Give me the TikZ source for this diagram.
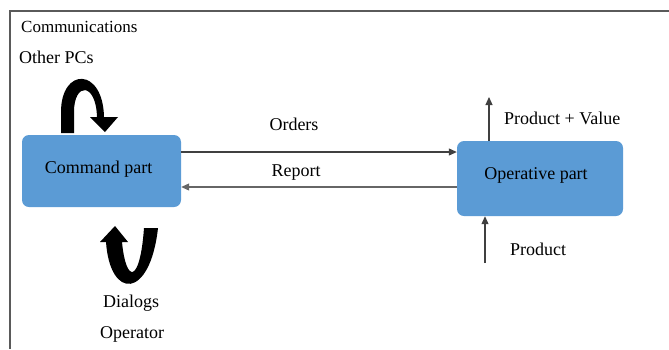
\documentclass[tikz,border=0pt]{standalone}
\usepackage{fontspec}
\setmainfont{Liberation Serif}
\usetikzlibrary{arrows.meta}
\definecolor{boxblue}{RGB}{91,155,213}
\definecolor{framegray}{RGB}{90,90,90}
\tikzset{
  partbox/.style={fill=boxblue, rounded corners=7pt, inner sep=0pt},
  lbl/.style={inner sep=0pt, font=\fontsize{18}{20}\selectfont},
  thinarrow/.style={draw=black!75, line width=1.1pt, -{Triangle[length=8pt,width=7pt]}},
  bigarrow/.style={fill=black},
  framel/.style={draw=framegray, line width=1.8pt}
}
\begin{document}
\begin{tikzpicture}[x=1pt,y=-1pt]
\useasboundingbox (0,0) rectangle (669,349);
% frame
\draw[framel] (9,11) -- (669,11);
\draw[framel] (10,11) -- (10,349);
% boxes
\node[partbox, minimum width=159pt, minimum height=72pt,
  label={[lbl, xshift=-3pt, yshift=2pt]center:Command part}] (cmd) at (101.5,171) {};
\node[partbox, minimum width=166pt, minimum height=75pt,
  label={[lbl, xshift=-4pt, yshift=3pt]center:Operative part}] (op) at (540,178.5) {};
% labels
\node[lbl, anchor=west, font=\fontsize{17}{19}\selectfont] (comm) at (21,27) {Communications};
\node[lbl, anchor=west] (otherpcs) at (19,57) {Other PCs};
\node[lbl] (orders) at (294,124) {Orders};
\node[lbl] (report) at (296,173) {Report};
\node[lbl, anchor=west] (pv) at (504,118) {Product + Value};
\node[lbl, anchor=west] (prod) at (510,249) {Product};
\node[lbl, anchor=west] (dialogs) at (103,303) {Dialogs};
\node[lbl, anchor=west] (operator) at (100,334) {Operator};
% connectors
\draw[thinarrow] (cmd.east |- 0,152) -- (op.west |- 0,152);
\draw[thinarrow, draw=black!60] (op.west |- 0,187) -- (cmd.east |- 0,187);
\coordinate (pvend) at (489,97);
\draw[thinarrow] (op.north -| pvend) -- (pvend);
\coordinate (prodstart) at (485,263);
\draw[thinarrow] (prodstart) -- (op.south -| prodstart);
% curved arrow top (Other PCs)
\fill[bigarrow] (61,133) -- (61,112) .. controls (61,67) and (103,67) .. (104,117)
  -- (118,117) -- (105,132) -- (90,117) -- (97,117)
  .. controls (96,82) and (74,82) .. (74,112) -- (74,133) -- cycle;
% curved arrow bottom (Dialogs)
\fill[bigarrow] (106,242) .. controls (110,300) and (150,300) .. (158,228)
  -- (144,228) .. controls (140,284) and (126,284) .. (122,242)
  -- (128,242) -- (115,226) -- (100,242) -- cycle;
\end{tikzpicture}
\end{document}
